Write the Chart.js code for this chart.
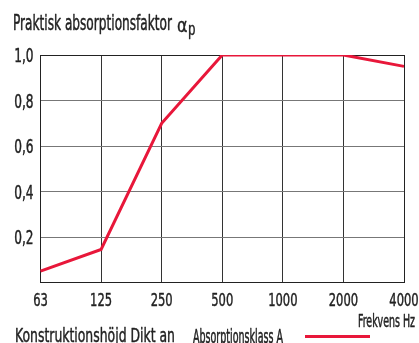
<!DOCTYPE html>
<html><head><meta charset="utf-8">
<script src="https://cdn.jsdelivr.net/npm/chart.js@4/dist/chart.umd.min.js"></script>
<style>
html,body{margin:0;padding:0;background:#fff;}
canvas{position:absolute;left:0;top:0;}
</style></head><body>
<canvas id="c" width="419" height="343"></canvas>
<script>
const categories = ["63","125","250","500","1000","2000","4000"];
const absorption = [0.05, 0.145, 0.70, 1.0, 1.0, 1.0, 0.95];
const yTicks = [0, 0.2, 0.4, 0.6, 0.8, 1.0];
const seriesName = "Absorptionsklass A";
const yTitle = "Praktisk absorptionsfaktor";
const yTitleSymbol = "α";
const yTitleSub = "p";
const xTitle = "Frekvens Hz";
const note = "Konstruktionshöjd Dikt an";

const FONT = '"DejaVu Sans Condensed","DejaVu Sans",sans-serif';
const INK = '#222';
const RED = '#e8173a';
const fmt = v => v.toFixed(1).replace('.', ',');

// draw condensed text: fits the text into width w horizontally
function cText(c, txt, x, y, size, w, align){
  c.save();
  c.font = size + 'px ' + FONT;
  c.textAlign = 'left'; c.textBaseline = 'alphabetic';
  const mw = c.measureText(txt).width;
  const sx = w / mw;
  const x0 = align === 'right' ? x - w : (align === 'center' ? x - w/2 : x);
  c.translate(x0, y); c.scale(sx, 1);
  c.fillStyle = INK; c.strokeStyle = INK; c.lineWidth = 0.3 / sx; c.lineJoin = 'round';
  c.fillText(txt, 0, 0);
  c.strokeText(txt, 0, 0);
  c.restore();
}

const deco = {id:'deco', afterDraw(chart){
  const c = chart.ctx, xs = chart.scales.x, ys = chart.scales.y, a = chart.chartArea;
  c.save();
  c.strokeStyle = INK; c.lineWidth = 1;
  c.beginPath(); c.moveTo(Math.round(a.right)+0.5, a.top); c.lineTo(Math.round(a.right)+0.5, a.bottom); c.stroke();
  c.restore();
  // x tick labels
  c.save(); c.font = '18px ' + FONT;
  const sx = 22 / c.measureText('125').width; c.restore();
  xs.ticks.forEach((t,i)=>{
    const lbl = categories[i];
    c.save(); c.font = '18px ' + FONT;
    const w = c.measureText(lbl).width * sx; c.restore();
    cText(c, lbl, xs.getPixelForTick(i), 306, 18, w, 'center');
  });
  // y tick labels
  ys.ticks.forEach(t=>{
    if (t.value === 0) return;
    const lbl = fmt(t.value);
    c.save(); c.font = '19px ' + FONT;
    const w = c.measureText(lbl).width * sx; c.restore();
    cText(c, lbl, 33.5, ys.getPixelForValue(t.value) + 7, 19, w, 'right');
  });
  // titles
  cText(c, yTitle, 13, 30, 22, 159, 'left');
  cText(c, yTitleSymbol, 177, 32, 19, 10.5, 'left');
  cText(c, yTitleSub, 188, 34.5, 18, 7.5, 'left');
  cText(c, xTitle, 415, 326.5, 17.5, 57, 'right');
  cText(c, note, 15, 342.3, 19, 160, 'left');
  // legend
  const ds = chart.data.datasets[0];
  cText(c, ds.label, 193, 343, 19, 90, 'left');
  c.save(); c.strokeStyle = ds.borderColor; c.lineWidth = 3;
  c.beginPath(); c.moveTo(305, 336.5); c.lineTo(370, 336.5); c.stroke(); c.restore();
}};

new Chart(document.getElementById('c'), {
  type:'line',
  data:{labels:categories, datasets:[{label:seriesName, data:absorption, borderColor:RED, borderWidth:3, pointRadius:0, tension:0, fill:false, borderJoinStyle:'miter'}]},
  options:{
    responsive:false, animation:false, devicePixelRatio:1,
    layout:{padding:{top:55, right:15, left:0, bottom:0}},
    plugins:{legend:{display:false}, tooltip:{enabled:false}},
    scales:{
      x:{offset:false,
        grid:{color:'#333', lineWidth:1, drawTicks:false},
        border:{color:INK, width:1},
        ticks:{display:false, autoSkip:false},
        afterFit(s){ s.height = 60.5; s.paddingLeft = 0; s.paddingRight = 0; }
      },
      y:{min:0, max:1, afterBuildTicks(s){ s.ticks = yTicks.map(v=>({value:v})); },
        grid:{color:(ctx)=> ctx.tick && ctx.tick.value===1 ? INK : '#777', lineWidth:1, drawTicks:false},
        border:{color:INK, width:1},
        ticks:{display:false},
        afterFit(s){ s.width = 40.5; s.paddingTop = 0; s.paddingBottom = 0; }
      }
    }
  },
  plugins:[deco]
});
</script>
</body></html>
